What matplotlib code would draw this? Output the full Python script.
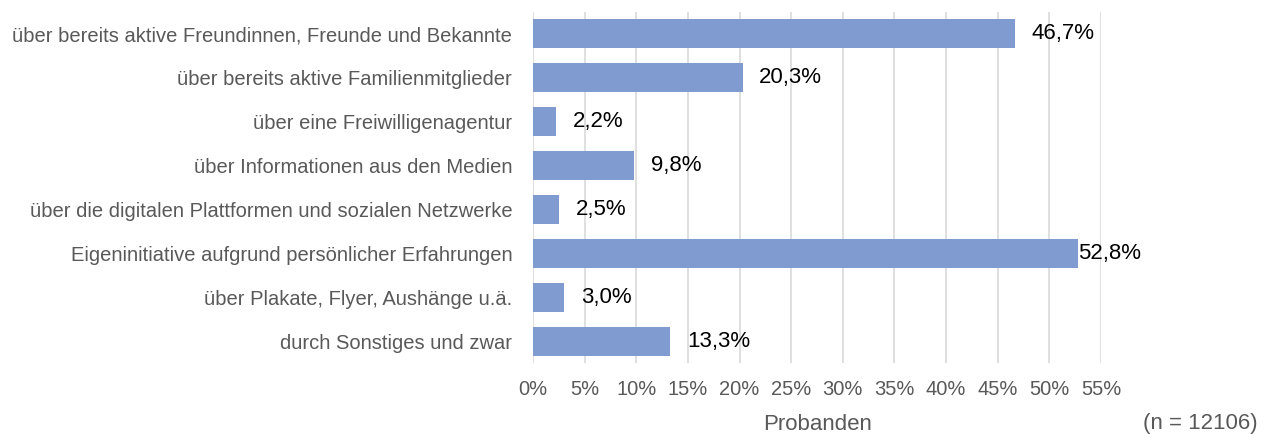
import matplotlib
matplotlib.use("Agg")
import matplotlib.pyplot as plt
import numpy as np

plt.rcParams['font.family'] = ['Liberation Sans', 'DejaVu Sans']

categories = [
    "über bereits aktive Freundinnen, Freunde und Bekannte",
    "über bereits aktive Familienmitglieder",
    "über eine Freiwilligenagentur",
    "über Informationen aus den Medien",
    "über die digitalen Plattformen und sozialen Netzwerke",
    "Eigeninitiative aufgrund persönlicher Erfahrungen",
    "über Plakate, Flyer, Aushänge u.ä.",
    "durch Sonstiges und zwar",
]
values = [46.7, 20.3, 2.2, 9.8, 2.5, 52.8, 3.0, 13.3]
ticks = list(range(0, 60, 5))

fig = plt.figure(figsize=(12.7, 4.34), dpi=100)
ax = fig.add_axes([0.4197, 0.1636, 0.4472, 0.8088])

y = np.arange(len(categories))
ax.barh(y, values, height=0.66, color='#7F9BD0', zorder=3)

# label offsets in points (the largest bar's label sits right at the bar end)
offsets = [12, 12, 12, 12, 12, 0, 12, 12]
for yi, v, off in zip(y, values, offsets):
    ax.annotate(f"{v:.1f}%".replace('.', ','), (v, yi), xytext=(off, 0),
                textcoords='offset points', va='center', ha='left',
                fontsize=16, color='black')

ax.set_xlim(0, 55)
ax.set_ylim(len(categories) - 0.5, -0.5)
ax.set_xticks(ticks)
ax.set_xticklabels([f"{t}%" for t in ticks])
ax.set_yticks(y)
ax.set_yticklabels(categories)
ax.tick_params(axis='both', length=0, labelsize=14.5, labelcolor='#595959')
ax.tick_params(axis='x', pad=12)
ax.tick_params(axis='y', pad=15)
ax.grid(axis='x', color='#D9D9D9', linewidth=1.2, zorder=0)
for s in ax.spines.values():
    s.set_visible(False)

fig.text(818 / 1270, 1 - 424 / 434, "Probanden", ha='center', va='center',
         fontsize=16, color='#595959')
fig.text(1258 / 1270, 1 - 424 / 434, "(n = 12106)", ha='right', va='center',
         fontsize=16, color='#595959')

fig.savefig("out.png", dpi=100)
